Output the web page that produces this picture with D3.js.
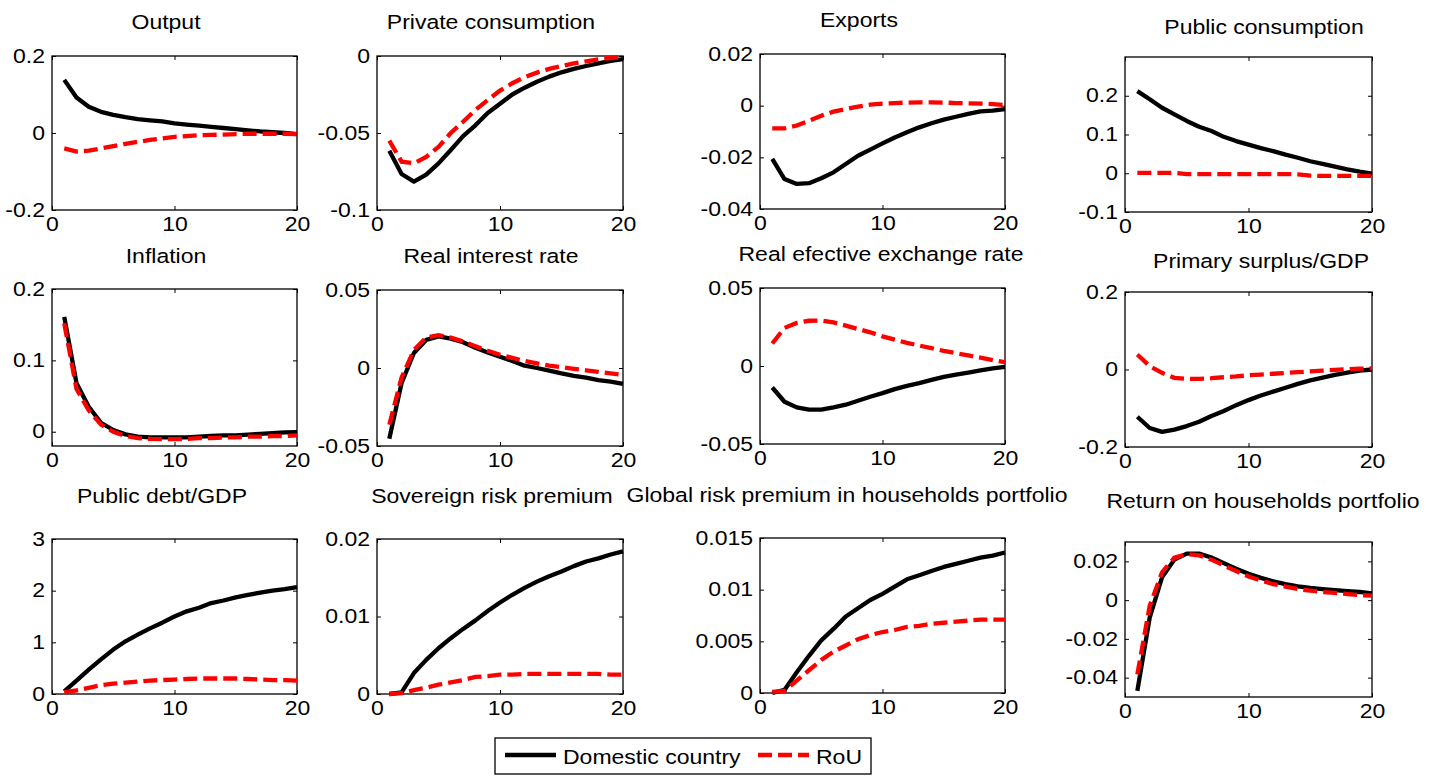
<!DOCTYPE html>
<html>
<head>
<meta charset="utf-8">
<script src="https://cdn.jsdelivr.net/npm/d3@7"></script>
<style>
  body { margin: 0; background: #fff; }
  text { font-family: "Liberation Sans", Arial, sans-serif; fill: #000; }
</style>
</head>
<body>
<div id="box-div"></div>
<script>
// data
const periods = [1, 2, 3, 4, 5, 6, 7, 8, 9, 10, 11, 12, 13, 14, 15, 16, 17, 18, 19, 20];
const seriesNames = ['Domestic country', 'RoU'];
const titles = ['Output', 'Private consumption', 'Exports', 'Public consumption',
    'Inflation', 'Real interest rate', 'Real efective exchange rate', 'Primary surplus/GDP',
    'Public debt/GDP', 'Sovereign risk premium', 'Global risk premium in households portfolio', 'Return on households portfolio'];
const xTicks = [0, 10, 20];
const yDomains = [[-0.2, 0.2], [-0.1, 0], [-0.04, 0.02], [-0.1, 0.3],
    [-0.02, 0.2], [-0.05, 0.05], [-0.05, 0.05], [-0.2, 0.2],
    [0, 3], [0, 0.02], [0, 0.015], [-0.05, 0.03]];
const yTicks = [[-0.2, 0, 0.2], [-0.1, -0.05, 0], [-0.04, -0.02, 0, 0.02], [-0.1, 0, 0.1, 0.2],
    [0, 0.1, 0.2], [-0.05, 0, 0.05], [-0.05, 0, 0.05], [-0.2, 0, 0.2],
    [0, 1, 2, 3], [0, 0.01, 0.02], [0, 0.005, 0.01, 0.015], [-0.04, -0.02, 0, 0.02]];

const outputDom = [0.138, 0.092, 0.068, 0.055, 0.047, 0.041, 0.036, 0.033, 0.030, 0.025, 0.022, 0.019, 0.016, 0.013, 0.010, 0.007, 0.004, 0.002, 0.000, -0.003];
const outputRoU = [-0.040, -0.048, -0.046, -0.040, -0.034, -0.028, -0.023, -0.018, -0.014, -0.010, -0.008, -0.006, -0.005, -0.004, -0.003, -0.002, -0.002, -0.002, -0.002, -0.003];
const consDom = [-0.0615, -0.0766, -0.0816, -0.077, -0.0697, -0.061, -0.052, -0.045, -0.037, -0.031, -0.025, -0.0206, -0.0167, -0.0134, -0.0106, -0.0084, -0.0065, -0.0048, -0.0032, -0.002];
const consRoU = [-0.055, -0.0686, -0.0697, -0.0655, -0.059, -0.050, -0.0427, -0.035, -0.0286, -0.0225, -0.0177, -0.0138, -0.0108, -0.0084, -0.0065, -0.0048, -0.0035, -0.0022, -0.0013, -0.0006];
const exportsDom = [-0.0206, -0.0284, -0.0303, -0.030, -0.0281, -0.0258, -0.0226, -0.0194, -0.017, -0.0146, -0.0123, -0.0103, -0.0084, -0.0068, -0.0054, -0.0043, -0.0032, -0.0022, -0.0019, -0.0013];
const exportsRoU = [-0.0088, -0.0088, -0.0077, -0.0058, -0.0039, -0.0023, -0.0013, -0.0004, 0.0004, 0.0008, 0.0010, 0.0012, 0.0013, 0.0013, 0.0012, 0.0010, 0.0009, 0.0008, 0.0006, 0.0002];
const pubConsDom = [0.212, 0.191, 0.169, 0.152, 0.135, 0.120, 0.109, 0.094, 0.083, 0.074, 0.065, 0.057, 0.048, 0.040, 0.031, 0.024, 0.017, 0.010, 0.004, -0.001];
const pubConsRoU = [0.001, 0.001, 0.001, 0.001, -0.002, -0.002, -0.002, -0.002, -0.002, -0.002, -0.002, -0.002, -0.002, -0.003, -0.006, -0.007, -0.007, -0.007, -0.007, -0.007];
const inflDom = [0.161, 0.068, 0.035, 0.0126, 0.0024, -0.0037, -0.007, -0.008, -0.008, -0.008, -0.008, -0.007, -0.006, -0.005, -0.005, -0.004, -0.003, -0.002, -0.001, -0.0005];
const inflRoU = [0.152, 0.060, 0.030, 0.010, 0.000, -0.006, -0.009, -0.010, -0.0105, -0.0105, -0.010, -0.009, -0.009, -0.008, -0.008, -0.007, -0.007, -0.006, -0.006, -0.005];
const rateDom = [-0.0454, -0.0096, 0.0096, 0.018, 0.0203, 0.0188, 0.0165, 0.013, 0.010, 0.0072, 0.0045, 0.0015, 0.0, -0.0017, -0.0035, -0.005, -0.0062, -0.0078, -0.0088, -0.0102];
const rateRoU = [-0.0364, -0.006, 0.0115, 0.0195, 0.021, 0.0195, 0.017, 0.014, 0.011, 0.0085, 0.0065, 0.0045, 0.003, 0.0015, 0.0005, -0.0005, -0.0015, -0.0025, -0.0035, -0.0045];
const reerDom = [-0.0138, -0.0229, -0.0265, -0.028, -0.028, -0.0265, -0.0248, -0.0223, -0.0197, -0.0174, -0.0148, -0.0127, -0.011, -0.0089, -0.007, -0.0055, -0.0042, -0.0028, -0.0015, -0.0006];
const reerRoU = [0.0144, 0.0244, 0.0276, 0.029, 0.0292, 0.028, 0.0259, 0.0237, 0.0216, 0.019, 0.0169, 0.0148, 0.0131, 0.0114, 0.0097, 0.0082, 0.0068, 0.0053, 0.0038, 0.0025];
const surplusDom = [-0.122, -0.151, -0.161, -0.155, -0.146, -0.135, -0.120, -0.107, -0.092, -0.079, -0.067, -0.057, -0.047, -0.037, -0.028, -0.021, -0.014, -0.008, -0.003, 0.0];
const surplusRoU = [0.0388, 0.0086, -0.0086, -0.0215, -0.024, -0.024, -0.0225, -0.020, -0.018, -0.015, -0.013, -0.011, -0.009, -0.007, -0.005, -0.003, -0.001, 0.001, 0.002, 0.003];
const debtDom = [0.05, 0.26, 0.47, 0.67, 0.86, 1.02, 1.15, 1.27, 1.38, 1.50, 1.60, 1.67, 1.76, 1.81, 1.87, 1.92, 1.96, 2.00, 2.03, 2.07];
const debtRoU = [0.03, 0.07, 0.12, 0.17, 0.20, 0.22, 0.24, 0.26, 0.27, 0.28, 0.29, 0.30, 0.30, 0.30, 0.30, 0.29, 0.28, 0.27, 0.27, 0.26];
const sovDom = [0.0, 0.0002, 0.0027, 0.0044, 0.0059, 0.0072, 0.0084, 0.0095, 0.0107, 0.0118, 0.0128, 0.0137, 0.0145, 0.0152, 0.0158, 0.0165, 0.0171, 0.0175, 0.0180, 0.0184];
const sovRoU = [0.0, 0.0001, 0.0005, 0.0008, 0.0012, 0.0015, 0.0018, 0.0022, 0.0023, 0.0025, 0.0025, 0.0026, 0.0026, 0.0026, 0.0026, 0.0026, 0.0026, 0.0026, 0.0025, 0.0025];
const globalDom = [0.0, 0.0003, 0.002, 0.0036, 0.0051, 0.0062, 0.0074, 0.0082, 0.009, 0.0096, 0.0103, 0.011, 0.0114, 0.0118, 0.0122, 0.0125, 0.0128, 0.0131, 0.0133, 0.0136];
const globalRoU = [0.0001, 0.0002, 0.0012, 0.0022, 0.0032, 0.004, 0.0046, 0.0052, 0.0056, 0.0059, 0.0061, 0.0064, 0.0065, 0.0067, 0.0068, 0.0069, 0.007, 0.0071, 0.0071, 0.0071];
const returnDom = [-0.0468, -0.009, 0.0118, 0.0209, 0.024, 0.024, 0.022, 0.0191, 0.0162, 0.0136, 0.0115, 0.0097, 0.0083, 0.0071, 0.0063, 0.0057, 0.0052, 0.0047, 0.0042, 0.0035];
const returnRoU = [-0.0383, -0.003, 0.0144, 0.0219, 0.0237, 0.0231, 0.0209, 0.0179, 0.015, 0.0122, 0.0101, 0.0083, 0.007, 0.0057, 0.0049, 0.0042, 0.0037, 0.0031, 0.0026, 0.0023];

const domSeries = [outputDom, consDom, exportsDom, pubConsDom, inflDom, rateDom, reerDom, surplusDom, debtDom, sovDom, globalDom, returnDom];
const rouSeries = [outputRoU, consRoU, exportsRoU, pubConsRoU, inflRoU, rateRoU, reerRoU, surplusRoU, debtRoU, sovRoU, globalRoU, returnRoU];

// layout: axes boxes [x0, y0, x1, y1] and title anchor [cx, baseline]
const boxes = [[52, 56, 297, 210], [377, 56, 623, 210], [760, 54, 1005, 209], [1125, 57, 1372, 212],
    [52, 289, 297, 446], [377, 290, 623, 446], [760, 288, 1005, 444], [1125, 292, 1372, 447],
    [52, 539, 297, 694], [377, 539, 623, 694], [760, 538, 1005, 693], [1125, 542, 1372, 697]];
const titlePos = [[166, 29], [491, 29], [859, 27], [1264, 34],
    [166, 263], [491, 263], [881, 261], [1261, 268],
    [162, 503], [492, 503], [847, 502], [1263, 508]];

const dms = { width: 1444, height: 776 };
const fontSize = 19.5;
const SX = 1.18; // the text in the figure is stretched sideways
const tickLen = 4;

const svg = d3.select('#box-div').append('svg')
    .attr('width', dms.width)
    .attr('height', dms.height)
    .style('display', 'block')

svg.append('rect').attr('width', dms.width).attr('height', dms.height).attr('fill', '#fff')

const styleAxis = (g) => {
    g.select('.domain').remove()
    g.attr('font-size', fontSize)
        .attr('font-family', '"Liberation Sans", Arial, sans-serif')
        .style('color', '#000')
    g.selectAll('line').attr('stroke-width', 1)
}

titles.forEach((title, i) => {
    const b = boxes[i];
    const w = b[2] - b[0], h = b[3] - b[1];
    const g = svg.append('g').attr('transform', `translate(${b[0]},${b[1]})`);

    const x = d3.scaleLinear().domain([0, 20]).range([0, w]);
    const y = d3.scaleLinear().domain(yDomains[i]).range([h, 0]);
    const fmt = d => String(d);

    // bottom + left with labels, top + right ticks only (box on)
    g.append('g').attr('transform', `translate(0,${h})`)
        .call(d3.axisBottom(x).tickValues(xTicks).tickSizeInner(-tickLen).tickSizeOuter(0).tickPadding(7).tickFormat(fmt))
        .call(styleAxis)
        .call(a => a.selectAll('text').attr('transform', `scale(${SX},1)`))
    g.append('g')
        .call(d3.axisLeft(y).tickValues(yTicks[i]).tickSizeInner(-tickLen).tickSizeOuter(0).tickPadding(7).tickFormat(fmt))
        .call(styleAxis)
        .call(a => a.selectAll('text').attr('x', -7 / SX).attr('transform', `scale(${SX},1)`))
    g.append('g')
        .call(d3.axisTop(x).tickValues(xTicks).tickSizeInner(-tickLen).tickSizeOuter(0).tickFormat(''))
        .call(styleAxis)
    g.append('g').attr('transform', `translate(${w},0)`)
        .call(d3.axisRight(y).tickValues(yTicks[i]).tickSizeInner(-tickLen).tickSizeOuter(0).tickFormat(''))
        .call(styleAxis)

    g.append('rect')
        .attr('width', w).attr('height', h)
        .attr('fill', 'none').attr('stroke', '#000').attr('stroke-width', 1.3)

    const line = d3.line().x((d, k) => x(periods[k])).y(d => y(d));
    g.append('path')
        .datum(domSeries[i])
        .attr('d', line)
        .attr('fill', 'none').attr('stroke', '#000').attr('stroke-width', 4.3)
        .attr('stroke-linejoin', 'round')
    g.append('path')
        .datum(rouSeries[i])
        .attr('d', line)
        .attr('fill', 'none').attr('stroke', '#ff0000').attr('stroke-width', 4.3)
        .attr('stroke-dasharray', '14,6')

    svg.append('text')
        .attr('transform', `translate(${titlePos[i][0]},${titlePos[i][1]}) scale(${SX},1)`)
        .attr('text-anchor', 'middle')
        .attr('font-size', fontSize)
        .text(title)
})

// legend
const legend = svg.append('g').attr('transform', 'translate(495,738)')
legend.append('rect')
    .attr('width', 376).attr('height', 36)
    .attr('fill', '#fff').attr('stroke', '#000').attr('stroke-width', 1.3)
const legendItems = [
    { name: seriesNames[0], color: '#000', dash: null, x0: 10, tx: 68 },
    { name: seriesNames[1], color: '#ff0000', dash: '14,6', x0: 263, tx: 321 }
]
legendItems.forEach(it => {
    legend.append('line')
        .attr('x1', it.x0).attr('x2', it.x0 + 51)
        .attr('y1', 17).attr('y2', 17)
        .attr('stroke', it.color).attr('stroke-width', 4.3)
        .attr('stroke-dasharray', it.dash)
    legend.append('text')
        .attr('transform', `translate(${it.tx},26) scale(${SX},1)`)
        .attr('font-size', fontSize)
        .text(it.name)
})
</script>
</body>
</html>
